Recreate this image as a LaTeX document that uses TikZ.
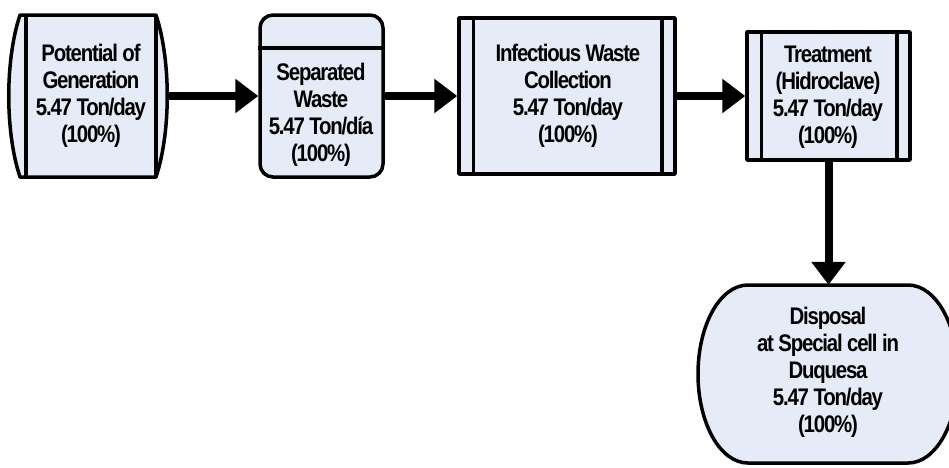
\documentclass[tikz,border=0pt]{standalone}
\usepackage{fontspec}
\usetikzlibrary{arrows.meta}
\newfontfamily\flowfont[FakeStretch=0.85,LetterSpace=-5]{Liberation Sans}
\definecolor{boxfill}{RGB}{230,236,247}
\tikzset{
  lab/.style={font=\flowfont\bfseries\fontsize{24}{27}\selectfont, align=center, text=black, inner sep=0pt},
  outline/.style={draw=black, line width=3.5pt, fill=boxfill, line join=round},
  frame/.style={outline, rectangle, inner sep=0pt},
  ghost/.style={rectangle, draw=none, inner sep=0pt},
  flow/.style={line width=8pt, -{Triangle[length=23pt,width=33pt]}},
}
\begin{document}
\begin{tikzpicture}[x=1pt,y=-1pt]
\useasboundingbox (0,0) rectangle (949,467);

% Potential of generation: drum with curved sides
\path[outline] (20,15) -- (156,15)
  .. controls (171,60) and (171,132) .. (156,177) -- (20,177)
  .. controls (5,132) and (5,60) .. (20,15) -- cycle;
\draw[line width=3.5pt] (26,15) -- (26,177);
\draw[line width=3.5pt] (156,15) -- (156,177);
\node[ghost, minimum width=157pt, minimum height=162pt] (gen) at (88.5,96) {};
\node[lab] (genT) at (91,96) {Potential of\\Generation\\5.47 Ton/day\\(100\%)};

% Separated waste: rounded box with header band
\node[frame, rounded corners=13pt, minimum width=123pt, minimum height=162pt] (sep) at (321.5,96) {};
\draw[line width=3.5pt] (sep.north west |- 0,48) -- (sep.north east |- 0,48);
\node[lab] (sepT) at (321,115) {Separated\\Waste\\5.47 Ton/d\'ia\\(100\%)};

% Infectious waste collection: predefined-process box
\node[frame, minimum width=216pt, minimum height=156pt] (coll) at (567,96) {};
\draw[line width=3.5pt] ([xshift=16pt]coll.north west) -- ([xshift=16pt]coll.south west);
\draw[line width=3.5pt] ([xshift=-15pt]coll.north east) -- ([xshift=-15pt]coll.south east);
\node[lab] (collT) at (568,96) {Infectious Waste\\Collection\\5.47 Ton/day\\(100\%)};

% Treatment: predefined-process box
\node[frame, minimum width=163pt, minimum height=128pt] (treat) at (828.5,96) {};
\draw[line width=3.5pt] ([xshift=16pt]treat.north west) -- ([xshift=16pt]treat.south west);
\draw[line width=3.5pt] ([xshift=-15pt]treat.north east) -- ([xshift=-15pt]treat.south east);
\node[lab] (treatT) at (828,97) {Treatment\\(Hidroclave)\\5.47 Ton/day\\(100\%)};

% Disposal: rounded terminal shape
\path[outline] (748,285) -- (908,285)
  .. controls (936,285) and (958,325) .. (958,374)
  .. controls (958,423) and (936,463) .. (908,463) -- (748,463)
  .. controls (720,463) and (698,423) .. (698,374)
  .. controls (698,325) and (720,285) .. (748,285) -- cycle;
\node[ghost, minimum width=260pt, minimum height=178pt] (disp) at (828,374) {};
\node[lab] (dispT) at (828,372) {Disposal\\at Special cell in\\Duquesa\\5.47 Ton/day\\(100\%)};

% Flow arrows
\draw[flow] (gen.east) -- (sep.west);
\draw[flow] (sep.east) -- (coll.west);
\draw[flow] (coll.east) -- (treat.west);
\draw[flow] (treat.south) -- (treat.south |- disp.north);
\end{tikzpicture}
\end{document}
